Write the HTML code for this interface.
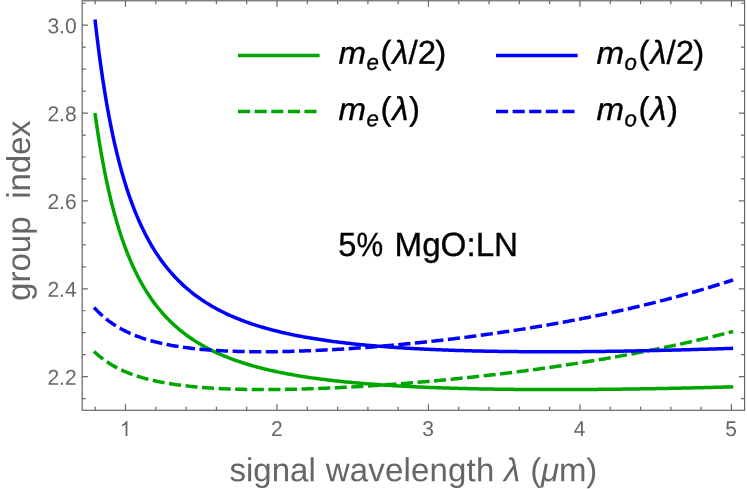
<!DOCTYPE html>
<html><head><meta charset="utf-8"><title>group index</title>
<style>html,body{margin:0;padding:0;background:#fff}body{width:747px;height:489px;overflow:hidden;font-family:"Liberation Sans",sans-serif}svg text{text-rendering:geometricPrecision}</style></head>
<body>
<svg width="747" height="489" viewBox="0 0 747 489" style="display:block;will-change:transform">
<rect width="747" height="489" fill="#fff"/>
<g fill="none" stroke-width="3.50" stroke-linecap="square" stroke-linejoin="round">
<path d="M95.20 114.64 L96.80 125.76 L98.39 136.21 L99.99 146.04 L101.58 155.29 L103.18 164.02 L104.77 172.26 L106.37 180.06 L107.96 187.45 L109.55 194.45 L111.15 201.09 L112.74 207.40 L114.34 213.41 L115.93 219.12 L117.53 224.57 L119.12 229.76 L120.72 234.72 L122.31 239.46 L123.91 243.99 L125.50 248.32 L127.09 252.47 L128.69 256.45 L130.28 260.27 L131.88 263.93 L133.47 267.44 L135.07 270.82 L136.66 274.07 L138.26 277.19 L139.85 280.20 L141.45 283.10 L143.04 285.89 L144.63 288.58 L146.23 291.17 L147.82 293.68 L149.42 296.09 L151.01 298.43 L152.61 300.69 L154.20 302.87 L155.80 304.98 L157.39 307.02 L158.99 309.00 L160.58 310.91 L162.17 312.77 L163.77 314.56 L165.36 316.30 L166.96 317.99 L168.55 319.63 L170.15 321.22 L171.74 322.76 L173.34 324.26 L174.93 325.72 L176.52 327.13 L178.12 328.51 L179.71 329.84 L181.31 331.14 L182.90 332.41 L184.50 333.64 L186.09 334.83 L187.69 336.00 L189.28 337.13 L190.88 338.24 L192.47 339.31 L194.06 340.36 L195.66 341.38 L197.25 342.38 L198.85 343.35 L200.44 344.30 L202.04 345.22 L203.63 346.12 L205.23 347.00 L206.82 347.86 L208.42 348.70 L210.01 349.52 L211.60 350.32 L213.20 351.10 L214.79 351.86 L216.39 352.60 L217.98 353.33 L219.58 354.04 L221.17 354.74 L222.77 355.42 L224.36 356.08 L225.96 356.73 L227.55 357.37 L229.14 357.99 L230.74 358.60 L232.33 359.20 L233.93 359.78 L235.52 360.35 L237.12 360.91 L238.71 361.46 L240.31 361.99 L241.90 362.52 L243.49 363.03 L245.09 363.54 L246.68 364.03 L248.28 364.51 L249.87 364.99 L251.47 365.45 L253.06 365.91 L254.66 366.35 L256.25 366.79 L257.85 367.22 L259.44 367.64 L261.03 368.05 L262.63 368.45 L264.22 368.85 L265.82 369.24 L267.41 369.62 L269.01 369.99 L270.60 370.36 L272.20 370.72 L273.79 371.08 L275.39 371.42 L276.98 371.76 L278.57 372.10 L280.17 372.43 L281.76 372.75 L283.36 373.06 L284.95 373.37 L286.55 373.68 L288.14 373.98 L289.74 374.27 L291.33 374.56 L292.93 374.84 L294.52 375.12 L296.11 375.40 L297.71 375.67 L299.30 375.93 L300.90 376.19 L302.49 376.44 L304.09 376.69 L305.68 376.94 L307.28 377.18 L308.87 377.42 L310.47 377.65 L312.06 377.88 L313.65 378.11 L315.25 378.33 L316.84 378.55 L318.44 378.76 L320.03 378.97 L321.63 379.18 L323.22 379.38 L324.82 379.58 L326.41 379.78 L328.00 379.97 L329.60 380.16 L331.19 380.35 L332.79 380.53 L334.38 380.71 L335.98 380.89 L337.57 381.06 L339.17 381.24 L340.76 381.40 L342.36 381.57 L343.95 381.73 L345.54 381.89 L347.14 382.05 L348.73 382.21 L350.33 382.36 L351.92 382.51 L353.52 382.66 L355.11 382.80 L356.71 382.94 L358.30 383.08 L359.90 383.22 L361.49 383.36 L363.08 383.49 L364.68 383.62 L366.27 383.75 L367.87 383.88 L369.46 384.00 L371.06 384.12 L372.65 384.24 L374.25 384.36 L375.84 384.48 L377.44 384.59 L379.03 384.71 L380.62 384.82 L382.22 384.93 L383.81 385.03 L385.41 385.14 L387.00 385.24 L388.60 385.34 L390.19 385.44 L391.79 385.54 L393.38 385.64 L394.97 385.73 L396.57 385.82 L398.16 385.92 L399.76 386.01 L401.35 386.09 L402.95 386.18 L404.54 386.27 L406.14 386.35 L407.73 386.43 L409.33 386.51 L410.92 386.59 L412.51 386.67 L414.11 386.75 L415.70 386.82 L417.30 386.90 L418.89 386.97 L420.49 387.04 L422.08 387.11 L423.68 387.18 L425.27 387.25 L426.87 387.31 L428.46 387.38 L430.05 387.44 L431.65 387.50 L433.24 387.56 L434.84 387.62 L436.43 387.68 L438.03 387.74 L439.62 387.80 L441.22 387.85 L442.81 387.91 L444.41 387.96 L446.00 388.01 L447.59 388.06 L449.19 388.11 L450.78 388.16 L452.38 388.21 L453.97 388.26 L455.57 388.30 L457.16 388.35 L458.76 388.39 L460.35 388.44 L461.95 388.48 L463.54 388.52 L465.13 388.56 L466.73 388.60 L468.32 388.64 L469.92 388.67 L471.51 388.71 L473.11 388.75 L474.70 388.78 L476.30 388.81 L477.89 388.85 L479.48 388.88 L481.08 388.91 L482.67 388.94 L484.27 388.97 L485.86 389.00 L487.46 389.03 L489.05 389.06 L490.65 389.08 L492.24 389.11 L493.84 389.13 L495.43 389.16 L497.02 389.18 L498.62 389.20 L500.21 389.22 L501.81 389.25 L503.40 389.27 L505.00 389.29 L506.59 389.30 L508.19 389.32 L509.78 389.34 L511.38 389.36 L512.97 389.37 L514.56 389.39 L516.16 389.40 L517.75 389.42 L519.35 389.43 L520.94 389.44 L522.54 389.46 L524.13 389.47 L525.73 389.48 L527.32 389.49 L528.92 389.50 L530.51 389.51 L532.10 389.52 L533.70 389.52 L535.29 389.53 L536.89 389.54 L538.48 389.54 L540.08 389.55 L541.67 389.55 L543.27 389.56 L544.86 389.56 L546.45 389.56 L548.05 389.57 L549.64 389.57 L551.24 389.57 L552.83 389.57 L554.43 389.57 L556.02 389.57 L557.62 389.57 L559.21 389.57 L560.81 389.57 L562.40 389.56 L563.99 389.56 L565.59 389.56 L567.18 389.55 L568.78 389.55 L570.37 389.54 L571.97 389.54 L573.56 389.53 L575.16 389.53 L576.75 389.52 L578.35 389.51 L579.94 389.50 L581.53 389.50 L583.13 389.49 L584.72 389.48 L586.32 389.47 L587.91 389.46 L589.51 389.45 L591.10 389.43 L592.70 389.42 L594.29 389.41 L595.89 389.40 L597.48 389.38 L599.07 389.37 L600.67 389.36 L602.26 389.34 L603.86 389.33 L605.45 389.31 L607.05 389.30 L608.64 389.28 L610.24 389.26 L611.83 389.25 L613.43 389.23 L615.02 389.21 L616.61 389.19 L618.21 389.17 L619.80 389.15 L621.40 389.14 L622.99 389.12 L624.59 389.09 L626.18 389.07 L627.78 389.05 L629.37 389.03 L630.96 389.01 L632.56 388.99 L634.15 388.96 L635.75 388.94 L637.34 388.92 L638.94 388.89 L640.53 388.87 L642.13 388.84 L643.72 388.82 L645.32 388.79 L646.91 388.77 L648.50 388.74 L650.10 388.71 L651.69 388.69 L653.29 388.66 L654.88 388.63 L656.48 388.60 L658.07 388.58 L659.67 388.55 L661.26 388.52 L662.86 388.49 L664.45 388.46 L666.04 388.43 L667.64 388.40 L669.23 388.37 L670.83 388.33 L672.42 388.30 L674.02 388.27 L675.61 388.24 L677.21 388.20 L678.80 388.17 L680.40 388.14 L681.99 388.10 L683.58 388.07 L685.18 388.04 L686.77 388.00 L688.37 387.97 L689.96 387.93 L691.56 387.89 L693.15 387.86 L694.75 387.82 L696.34 387.78 L697.93 387.75 L699.53 387.71 L701.12 387.67 L702.72 387.63 L704.31 387.60 L705.91 387.56 L707.50 387.52 L709.10 387.48 L710.69 387.44 L712.29 387.40 L713.88 387.36 L715.47 387.32 L717.07 387.28 L718.66 387.23 L720.26 387.19 L721.85 387.15 L723.45 387.11 L725.04 387.07 L726.64 387.02 L728.23 386.98 L729.83 386.94 L731.42 386.89" stroke="#00a600"/>
<path d="M95.20 352.60 L96.80 354.04 L98.39 355.42 L99.99 356.73 L101.58 357.99 L103.18 359.20 L104.77 360.35 L106.37 361.46 L107.96 362.52 L109.55 363.54 L111.15 364.51 L112.74 365.45 L114.34 366.35 L115.93 367.22 L117.53 368.05 L119.12 368.85 L120.72 369.62 L122.31 370.36 L123.91 371.08 L125.50 371.76 L127.09 372.43 L128.69 373.06 L130.28 373.68 L131.88 374.27 L133.47 374.84 L135.07 375.40 L136.66 375.93 L138.26 376.44 L139.85 376.94 L141.45 377.42 L143.04 377.88 L144.63 378.33 L146.23 378.76 L147.82 379.18 L149.42 379.58 L151.01 379.97 L152.61 380.35 L154.20 380.71 L155.80 381.06 L157.39 381.40 L158.99 381.73 L160.58 382.05 L162.17 382.36 L163.77 382.66 L165.36 382.94 L166.96 383.22 L168.55 383.49 L170.15 383.75 L171.74 384.00 L173.34 384.24 L174.93 384.48 L176.52 384.71 L178.12 384.93 L179.71 385.14 L181.31 385.34 L182.90 385.54 L184.50 385.73 L186.09 385.92 L187.69 386.09 L189.28 386.27 L190.88 386.43 L192.47 386.59 L194.06 386.75 L195.66 386.90 L197.25 387.04 L198.85 387.18 L200.44 387.31 L202.04 387.44 L203.63 387.56 L205.23 387.68 L206.82 387.80 L208.42 387.91 L210.01 388.01 L211.60 388.11 L213.20 388.21 L214.79 388.30 L216.39 388.39 L217.98 388.48 L219.58 388.56 L221.17 388.64 L222.77 388.71 L224.36 388.78 L225.96 388.85 L227.55 388.91 L229.14 388.97 L230.74 389.03 L232.33 389.08 L233.93 389.13 L235.52 389.18 L237.12 389.22 L238.71 389.27 L240.31 389.30 L241.90 389.34 L243.49 389.37 L245.09 389.40 L246.68 389.43 L248.28 389.46 L249.87 389.48 L251.47 389.50 L253.06 389.52 L254.66 389.53 L256.25 389.54 L257.85 389.55 L259.44 389.56 L261.03 389.57 L262.63 389.57 L264.22 389.57 L265.82 389.57 L267.41 389.57 L269.01 389.56 L270.60 389.55 L272.20 389.54 L273.79 389.53 L275.39 389.52 L276.98 389.50 L278.57 389.49 L280.17 389.47 L281.76 389.45 L283.36 389.42 L284.95 389.40 L286.55 389.37 L288.14 389.34 L289.74 389.31 L291.33 389.28 L292.93 389.25 L294.52 389.21 L296.11 389.17 L297.71 389.14 L299.30 389.09 L300.90 389.05 L302.49 389.01 L304.09 388.96 L305.68 388.92 L307.28 388.87 L308.87 388.82 L310.47 388.77 L312.06 388.71 L313.65 388.66 L315.25 388.60 L316.84 388.55 L318.44 388.49 L320.03 388.43 L321.63 388.37 L323.22 388.30 L324.82 388.24 L326.41 388.17 L328.00 388.10 L329.60 388.04 L331.19 387.97 L332.79 387.89 L334.38 387.82 L335.98 387.75 L337.57 387.67 L339.17 387.60 L340.76 387.52 L342.36 387.44 L343.95 387.36 L345.54 387.28 L347.14 387.19 L348.73 387.11 L350.33 387.02 L351.92 386.94 L353.52 386.85 L355.11 386.76 L356.71 386.67 L358.30 386.58 L359.90 386.48 L361.49 386.39 L363.08 386.29 L364.68 386.20 L366.27 386.10 L367.87 386.00 L369.46 385.90 L371.06 385.80 L372.65 385.70 L374.25 385.59 L375.84 385.49 L377.44 385.38 L379.03 385.27 L380.62 385.17 L382.22 385.06 L383.81 384.95 L385.41 384.83 L387.00 384.72 L388.60 384.61 L390.19 384.49 L391.79 384.38 L393.38 384.26 L394.97 384.14 L396.57 384.02 L398.16 383.90 L399.76 383.78 L401.35 383.65 L402.95 383.53 L404.54 383.41 L406.14 383.28 L407.73 383.15 L409.33 383.02 L410.92 382.89 L412.51 382.76 L414.11 382.63 L415.70 382.50 L417.30 382.37 L418.89 382.23 L420.49 382.09 L422.08 381.96 L423.68 381.82 L425.27 381.68 L426.87 381.54 L428.46 381.40 L430.05 381.26 L431.65 381.11 L433.24 380.97 L434.84 380.82 L436.43 380.67 L438.03 380.53 L439.62 380.38 L441.22 380.23 L442.81 380.08 L444.41 379.92 L446.00 379.77 L447.59 379.62 L449.19 379.46 L450.78 379.30 L452.38 379.15 L453.97 378.99 L455.57 378.83 L457.16 378.67 L458.76 378.50 L460.35 378.34 L461.95 378.18 L463.54 378.01 L465.13 377.85 L466.73 377.68 L468.32 377.51 L469.92 377.34 L471.51 377.17 L473.11 377.00 L474.70 376.82 L476.30 376.65 L477.89 376.48 L479.48 376.30 L481.08 376.12 L482.67 375.94 L484.27 375.76 L485.86 375.58 L487.46 375.40 L489.05 375.22 L490.65 375.03 L492.24 374.85 L493.84 374.66 L495.43 374.48 L497.02 374.29 L498.62 374.10 L500.21 373.91 L501.81 373.72 L503.40 373.52 L505.00 373.33 L506.59 373.13 L508.19 372.94 L509.78 372.74 L511.38 372.54 L512.97 372.34 L514.56 372.14 L516.16 371.94 L517.75 371.73 L519.35 371.53 L520.94 371.32 L522.54 371.12 L524.13 370.91 L525.73 370.70 L527.32 370.49 L528.92 370.28 L530.51 370.06 L532.10 369.85 L533.70 369.63 L535.29 369.42 L536.89 369.20 L538.48 368.98 L540.08 368.76 L541.67 368.54 L543.27 368.32 L544.86 368.09 L546.45 367.87 L548.05 367.64 L549.64 367.42 L551.24 367.19 L552.83 366.96 L554.43 366.73 L556.02 366.49 L557.62 366.26 L559.21 366.03 L560.81 365.79 L562.40 365.55 L563.99 365.31 L565.59 365.07 L567.18 364.83 L568.78 364.59 L570.37 364.35 L571.97 364.10 L573.56 363.86 L575.16 363.61 L576.75 363.36 L578.35 363.11 L579.94 362.86 L581.53 362.60 L583.13 362.35 L584.72 362.09 L586.32 361.84 L587.91 361.58 L589.51 361.32 L591.10 361.06 L592.70 360.79 L594.29 360.53 L595.89 360.27 L597.48 360.00 L599.07 359.73 L600.67 359.46 L602.26 359.19 L603.86 358.92 L605.45 358.65 L607.05 358.37 L608.64 358.09 L610.24 357.82 L611.83 357.54 L613.43 357.26 L615.02 356.97 L616.61 356.69 L618.21 356.40 L619.80 356.12 L621.40 355.83 L622.99 355.54 L624.59 355.25 L626.18 354.96 L627.78 354.66 L629.37 354.37 L630.96 354.07 L632.56 353.77 L634.15 353.47 L635.75 353.17 L637.34 352.87 L638.94 352.56 L640.53 352.25 L642.13 351.95 L643.72 351.64 L645.32 351.33 L646.91 351.01 L648.50 350.70 L650.10 350.38 L651.69 350.06 L653.29 349.74 L654.88 349.42 L656.48 349.10 L658.07 348.78 L659.67 348.45 L661.26 348.12 L662.86 347.79 L664.45 347.46 L666.04 347.13 L667.64 346.80 L669.23 346.46 L670.83 346.12 L672.42 345.78 L674.02 345.44 L675.61 345.10 L677.21 344.75 L678.80 344.41 L680.40 344.06 L681.99 343.71 L683.58 343.36 L685.18 343.00 L686.77 342.65 L688.37 342.29 L689.96 341.93 L691.56 341.57 L693.15 341.21 L694.75 340.84 L696.34 340.48 L697.93 340.11 L699.53 339.74 L701.12 339.36 L702.72 338.99 L704.31 338.61 L705.91 338.24 L707.50 337.86 L709.10 337.47 L710.69 337.09 L712.29 336.70 L713.88 336.32 L715.47 335.93 L717.07 335.53 L718.66 335.14 L720.26 334.74 L721.85 334.35 L723.45 333.94 L725.04 333.54 L726.64 333.14 L728.23 332.73 L729.83 332.32 L731.42 331.91" stroke="#00a600" stroke-dasharray="8.62 7.98"/>
<path d="M95.20 21.20 L96.80 34.96 L98.39 47.85 L99.99 59.95 L101.58 71.32 L103.18 82.03 L104.77 92.13 L106.37 101.67 L107.96 110.69 L109.55 119.22 L111.15 127.31 L112.74 134.99 L114.34 142.28 L115.93 149.21 L117.53 155.81 L119.12 162.09 L120.72 168.09 L122.31 173.81 L123.91 179.28 L125.50 184.50 L127.09 189.50 L128.69 194.29 L130.28 198.87 L131.88 203.27 L133.47 207.49 L135.07 211.54 L136.66 215.43 L138.26 219.18 L139.85 222.78 L141.45 226.24 L143.04 229.58 L144.63 232.79 L146.23 235.89 L147.82 238.88 L149.42 241.76 L151.01 244.55 L152.61 247.23 L154.20 249.83 L155.80 252.34 L157.39 254.77 L158.99 257.12 L160.58 259.40 L162.17 261.60 L163.77 263.74 L165.36 265.80 L166.96 267.81 L168.55 269.75 L170.15 271.64 L171.74 273.47 L173.34 275.24 L174.93 276.96 L176.52 278.64 L178.12 280.27 L179.71 281.85 L181.31 283.38 L182.90 284.88 L184.50 286.33 L186.09 287.75 L187.69 289.12 L189.28 290.46 L190.88 291.77 L192.47 293.04 L194.06 294.28 L195.66 295.48 L197.25 296.66 L198.85 297.80 L200.44 298.92 L202.04 300.01 L203.63 301.07 L205.23 302.11 L206.82 303.12 L208.42 304.10 L210.01 305.07 L211.60 306.01 L213.20 306.93 L214.79 307.82 L216.39 308.70 L217.98 309.56 L219.58 310.39 L221.17 311.21 L222.77 312.01 L224.36 312.79 L225.96 313.56 L227.55 314.30 L229.14 315.04 L230.74 315.75 L232.33 316.45 L233.93 317.14 L235.52 317.81 L237.12 318.46 L238.71 319.10 L240.31 319.73 L241.90 320.35 L243.49 320.95 L245.09 321.54 L246.68 322.12 L248.28 322.69 L249.87 323.24 L251.47 323.79 L253.06 324.32 L254.66 324.84 L256.25 325.35 L257.85 325.85 L259.44 326.35 L261.03 326.83 L262.63 327.30 L264.22 327.77 L265.82 328.22 L267.41 328.67 L269.01 329.11 L270.60 329.54 L272.20 329.96 L273.79 330.37 L275.39 330.78 L276.98 331.17 L278.57 331.57 L280.17 331.95 L281.76 332.33 L283.36 332.69 L284.95 333.06 L286.55 333.41 L288.14 333.76 L289.74 334.11 L291.33 334.44 L292.93 334.78 L294.52 335.10 L296.11 335.42 L297.71 335.73 L299.30 336.04 L300.90 336.34 L302.49 336.64 L304.09 336.93 L305.68 337.22 L307.28 337.50 L308.87 337.78 L310.47 338.05 L312.06 338.32 L313.65 338.58 L315.25 338.84 L316.84 339.09 L318.44 339.34 L320.03 339.59 L321.63 339.83 L323.22 340.07 L324.82 340.30 L326.41 340.53 L328.00 340.75 L329.60 340.97 L331.19 341.19 L332.79 341.40 L334.38 341.61 L335.98 341.82 L337.57 342.02 L339.17 342.22 L340.76 342.42 L342.36 342.61 L343.95 342.80 L345.54 342.99 L347.14 343.17 L348.73 343.35 L350.33 343.53 L351.92 343.70 L353.52 343.87 L355.11 344.04 L356.71 344.21 L358.30 344.37 L359.90 344.53 L361.49 344.68 L363.08 344.84 L364.68 344.99 L366.27 345.14 L367.87 345.29 L369.46 345.43 L371.06 345.57 L372.65 345.71 L374.25 345.85 L375.84 345.98 L377.44 346.12 L379.03 346.25 L380.62 346.37 L382.22 346.50 L383.81 346.62 L385.41 346.75 L387.00 346.87 L388.60 346.98 L390.19 347.10 L391.79 347.21 L393.38 347.32 L394.97 347.43 L396.57 347.54 L398.16 347.64 L399.76 347.75 L401.35 347.85 L402.95 347.95 L404.54 348.05 L406.14 348.14 L407.73 348.24 L409.33 348.33 L410.92 348.42 L412.51 348.51 L414.11 348.60 L415.70 348.69 L417.30 348.77 L418.89 348.86 L420.49 348.94 L422.08 349.02 L423.68 349.10 L425.27 349.17 L426.87 349.25 L428.46 349.32 L430.05 349.40 L431.65 349.47 L433.24 349.54 L434.84 349.61 L436.43 349.67 L438.03 349.74 L439.62 349.80 L441.22 349.87 L442.81 349.93 L444.41 349.99 L446.00 350.05 L447.59 350.11 L449.19 350.16 L450.78 350.22 L452.38 350.27 L453.97 350.33 L455.57 350.38 L457.16 350.43 L458.76 350.48 L460.35 350.53 L461.95 350.58 L463.54 350.62 L465.13 350.67 L466.73 350.71 L468.32 350.75 L469.92 350.80 L471.51 350.84 L473.11 350.88 L474.70 350.92 L476.30 350.95 L477.89 350.99 L479.48 351.03 L481.08 351.06 L482.67 351.09 L484.27 351.13 L485.86 351.16 L487.46 351.19 L489.05 351.22 L490.65 351.25 L492.24 351.28 L493.84 351.31 L495.43 351.33 L497.02 351.36 L498.62 351.38 L500.21 351.41 L501.81 351.43 L503.40 351.45 L505.00 351.47 L506.59 351.49 L508.19 351.51 L509.78 351.53 L511.38 351.55 L512.97 351.57 L514.56 351.58 L516.16 351.60 L517.75 351.61 L519.35 351.63 L520.94 351.64 L522.54 351.65 L524.13 351.66 L525.73 351.67 L527.32 351.68 L528.92 351.69 L530.51 351.70 L532.10 351.71 L533.70 351.72 L535.29 351.72 L536.89 351.73 L538.48 351.73 L540.08 351.74 L541.67 351.74 L543.27 351.75 L544.86 351.75 L546.45 351.75 L548.05 351.75 L549.64 351.75 L551.24 351.75 L552.83 351.75 L554.43 351.75 L556.02 351.75 L557.62 351.74 L559.21 351.74 L560.81 351.73 L562.40 351.73 L563.99 351.72 L565.59 351.72 L567.18 351.71 L568.78 351.70 L570.37 351.70 L571.97 351.69 L573.56 351.68 L575.16 351.67 L576.75 351.66 L578.35 351.65 L579.94 351.64 L581.53 351.63 L583.13 351.61 L584.72 351.60 L586.32 351.59 L587.91 351.57 L589.51 351.56 L591.10 351.54 L592.70 351.53 L594.29 351.51 L595.89 351.49 L597.48 351.48 L599.07 351.46 L600.67 351.44 L602.26 351.42 L603.86 351.40 L605.45 351.38 L607.05 351.36 L608.64 351.34 L610.24 351.32 L611.83 351.29 L613.43 351.27 L615.02 351.25 L616.61 351.23 L618.21 351.20 L619.80 351.18 L621.40 351.15 L622.99 351.13 L624.59 351.10 L626.18 351.07 L627.78 351.05 L629.37 351.02 L630.96 350.99 L632.56 350.96 L634.15 350.93 L635.75 350.90 L637.34 350.87 L638.94 350.84 L640.53 350.81 L642.13 350.78 L643.72 350.75 L645.32 350.72 L646.91 350.69 L648.50 350.65 L650.10 350.62 L651.69 350.59 L653.29 350.55 L654.88 350.52 L656.48 350.48 L658.07 350.45 L659.67 350.41 L661.26 350.37 L662.86 350.34 L664.45 350.30 L666.04 350.26 L667.64 350.22 L669.23 350.18 L670.83 350.15 L672.42 350.11 L674.02 350.07 L675.61 350.03 L677.21 349.98 L678.80 349.94 L680.40 349.90 L681.99 349.86 L683.58 349.82 L685.18 349.78 L686.77 349.73 L688.37 349.69 L689.96 349.64 L691.56 349.60 L693.15 349.56 L694.75 349.51 L696.34 349.46 L697.93 349.42 L699.53 349.37 L701.12 349.33 L702.72 349.28 L704.31 349.23 L705.91 349.18 L707.50 349.13 L709.10 349.09 L710.69 349.04 L712.29 348.99 L713.88 348.94 L715.47 348.89 L717.07 348.84 L718.66 348.79 L720.26 348.73 L721.85 348.68 L723.45 348.63 L725.04 348.58 L726.64 348.53 L728.23 348.47 L729.83 348.42 L731.42 348.36" stroke="#0000ff"/>
<path d="M95.20 308.70 L96.80 310.39 L98.39 312.01 L99.99 313.56 L101.58 315.04 L103.18 316.45 L104.77 317.81 L106.37 319.10 L107.96 320.35 L109.55 321.54 L111.15 322.69 L112.74 323.79 L114.34 324.84 L115.93 325.85 L117.53 326.83 L119.12 327.77 L120.72 328.67 L122.31 329.54 L123.91 330.37 L125.50 331.17 L127.09 331.95 L128.69 332.69 L130.28 333.41 L131.88 334.11 L133.47 334.78 L135.07 335.42 L136.66 336.04 L138.26 336.64 L139.85 337.22 L141.45 337.78 L143.04 338.32 L144.63 338.84 L146.23 339.34 L147.82 339.83 L149.42 340.30 L151.01 340.75 L152.61 341.19 L154.20 341.61 L155.80 342.02 L157.39 342.42 L158.99 342.80 L160.58 343.17 L162.17 343.53 L163.77 343.87 L165.36 344.21 L166.96 344.53 L168.55 344.84 L170.15 345.14 L171.74 345.43 L173.34 345.71 L174.93 345.98 L176.52 346.25 L178.12 346.50 L179.71 346.75 L181.31 346.98 L182.90 347.21 L184.50 347.43 L186.09 347.64 L187.69 347.85 L189.28 348.05 L190.88 348.24 L192.47 348.42 L194.06 348.60 L195.66 348.77 L197.25 348.94 L198.85 349.10 L200.44 349.25 L202.04 349.40 L203.63 349.54 L205.23 349.67 L206.82 349.80 L208.42 349.93 L210.01 350.05 L211.60 350.16 L213.20 350.27 L214.79 350.38 L216.39 350.48 L217.98 350.58 L219.58 350.67 L221.17 350.75 L222.77 350.84 L224.36 350.92 L225.96 350.99 L227.55 351.06 L229.14 351.13 L230.74 351.19 L232.33 351.25 L233.93 351.31 L235.52 351.36 L237.12 351.41 L238.71 351.45 L240.31 351.49 L241.90 351.53 L243.49 351.57 L245.09 351.60 L246.68 351.63 L248.28 351.65 L249.87 351.67 L251.47 351.69 L253.06 351.71 L254.66 351.72 L256.25 351.73 L257.85 351.74 L259.44 351.75 L261.03 351.75 L262.63 351.75 L264.22 351.75 L265.82 351.74 L267.41 351.73 L269.01 351.72 L270.60 351.71 L272.20 351.70 L273.79 351.68 L275.39 351.66 L276.98 351.64 L278.57 351.61 L280.17 351.59 L281.76 351.56 L283.36 351.53 L284.95 351.49 L286.55 351.46 L288.14 351.42 L289.74 351.38 L291.33 351.34 L292.93 351.29 L294.52 351.25 L296.11 351.20 L297.71 351.15 L299.30 351.10 L300.90 351.05 L302.49 350.99 L304.09 350.93 L305.68 350.87 L307.28 350.81 L308.87 350.75 L310.47 350.69 L312.06 350.62 L313.65 350.55 L315.25 350.48 L316.84 350.41 L318.44 350.34 L320.03 350.26 L321.63 350.18 L323.22 350.11 L324.82 350.03 L326.41 349.94 L328.00 349.86 L329.60 349.78 L331.19 349.69 L332.79 349.60 L334.38 349.51 L335.98 349.42 L337.57 349.33 L339.17 349.23 L340.76 349.13 L342.36 349.04 L343.95 348.94 L345.54 348.84 L347.14 348.73 L348.73 348.63 L350.33 348.53 L351.92 348.42 L353.52 348.31 L355.11 348.20 L356.71 348.09 L358.30 347.98 L359.90 347.86 L361.49 347.75 L363.08 347.63 L364.68 347.51 L366.27 347.39 L367.87 347.27 L369.46 347.15 L371.06 347.02 L372.65 346.90 L374.25 346.77 L375.84 346.64 L377.44 346.51 L379.03 346.38 L380.62 346.25 L382.22 346.12 L383.81 345.98 L385.41 345.85 L387.00 345.71 L388.60 345.57 L390.19 345.43 L391.79 345.29 L393.38 345.14 L394.97 345.00 L396.57 344.85 L398.16 344.71 L399.76 344.56 L401.35 344.41 L402.95 344.26 L404.54 344.10 L406.14 343.95 L407.73 343.79 L409.33 343.64 L410.92 343.48 L412.51 343.32 L414.11 343.16 L415.70 343.00 L417.30 342.84 L418.89 342.67 L420.49 342.51 L422.08 342.34 L423.68 342.17 L425.27 342.00 L426.87 341.83 L428.46 341.66 L430.05 341.48 L431.65 341.31 L433.24 341.13 L434.84 340.95 L436.43 340.78 L438.03 340.60 L439.62 340.41 L441.22 340.23 L442.81 340.05 L444.41 339.86 L446.00 339.68 L447.59 339.49 L449.19 339.30 L450.78 339.11 L452.38 338.92 L453.97 338.72 L455.57 338.53 L457.16 338.33 L458.76 338.13 L460.35 337.94 L461.95 337.74 L463.54 337.53 L465.13 337.33 L466.73 337.13 L468.32 336.92 L469.92 336.72 L471.51 336.51 L473.11 336.30 L474.70 336.09 L476.30 335.88 L477.89 335.66 L479.48 335.45 L481.08 335.23 L482.67 335.01 L484.27 334.80 L485.86 334.58 L487.46 334.35 L489.05 334.13 L490.65 333.91 L492.24 333.68 L493.84 333.45 L495.43 333.23 L497.02 333.00 L498.62 332.76 L500.21 332.53 L501.81 332.30 L503.40 332.06 L505.00 331.83 L506.59 331.59 L508.19 331.35 L509.78 331.11 L511.38 330.86 L512.97 330.62 L514.56 330.37 L516.16 330.13 L517.75 329.88 L519.35 329.63 L520.94 329.38 L522.54 329.13 L524.13 328.87 L525.73 328.62 L527.32 328.36 L528.92 328.10 L530.51 327.84 L532.10 327.58 L533.70 327.32 L535.29 327.05 L536.89 326.79 L538.48 326.52 L540.08 326.25 L541.67 325.98 L543.27 325.71 L544.86 325.43 L546.45 325.16 L548.05 324.88 L549.64 324.60 L551.24 324.32 L552.83 324.04 L554.43 323.76 L556.02 323.48 L557.62 323.19 L559.21 322.90 L560.81 322.61 L562.40 322.32 L563.99 322.03 L565.59 321.74 L567.18 321.44 L568.78 321.14 L570.37 320.84 L571.97 320.54 L573.56 320.24 L575.16 319.94 L576.75 319.63 L578.35 319.32 L579.94 319.02 L581.53 318.71 L583.13 318.39 L584.72 318.08 L586.32 317.76 L587.91 317.45 L589.51 317.13 L591.10 316.81 L592.70 316.48 L594.29 316.16 L595.89 315.83 L597.48 315.50 L599.07 315.17 L600.67 314.84 L602.26 314.51 L603.86 314.17 L605.45 313.84 L607.05 313.50 L608.64 313.16 L610.24 312.82 L611.83 312.47 L613.43 312.12 L615.02 311.78 L616.61 311.43 L618.21 311.07 L619.80 310.72 L621.40 310.36 L622.99 310.01 L624.59 309.65 L626.18 309.29 L627.78 308.92 L629.37 308.56 L630.96 308.19 L632.56 307.82 L634.15 307.45 L635.75 307.07 L637.34 306.70 L638.94 306.32 L640.53 305.94 L642.13 305.56 L643.72 305.18 L645.32 304.79 L646.91 304.40 L648.50 304.01 L650.10 303.62 L651.69 303.23 L653.29 302.83 L654.88 302.43 L656.48 302.03 L658.07 301.63 L659.67 301.22 L661.26 300.81 L662.86 300.40 L664.45 299.99 L666.04 299.58 L667.64 299.16 L669.23 298.74 L670.83 298.32 L672.42 297.90 L674.02 297.47 L675.61 297.04 L677.21 296.61 L678.80 296.18 L680.40 295.75 L681.99 295.31 L683.58 294.87 L685.18 294.43 L686.77 293.98 L688.37 293.53 L689.96 293.08 L691.56 292.63 L693.15 292.18 L694.75 291.72 L696.34 291.26 L697.93 290.80 L699.53 290.33 L701.12 289.86 L702.72 289.39 L704.31 288.92 L705.91 288.45 L707.50 287.97 L709.10 287.49 L710.69 287.00 L712.29 286.52 L713.88 286.03 L715.47 285.54 L717.07 285.04 L718.66 284.54 L720.26 284.04 L721.85 283.54 L723.45 283.03 L725.04 282.53 L726.64 282.01 L728.23 281.50 L729.83 280.98 L731.42 280.46" stroke="#0000ff" stroke-dasharray="8.62 7.98"/>
</g>
<g stroke="#666666" stroke-width="1.2" fill="none">
<rect x="82.15" y="0.77" width="662.45" height="409.53"/>
<path d="M95.20 410.30v-3.60M95.20 0.77v3.60M125.50 410.30v-6.10M125.50 0.77v6.10M155.80 410.30v-3.60M155.80 0.77v3.60M186.09 410.30v-3.60M186.09 0.77v3.60M216.39 410.30v-3.60M216.39 0.77v3.60M246.68 410.30v-3.60M246.68 0.77v3.60M276.98 410.30v-6.10M276.98 0.77v6.10M307.28 410.30v-3.60M307.28 0.77v3.60M337.57 410.30v-3.60M337.57 0.77v3.60M367.87 410.30v-3.60M367.87 0.77v3.60M398.16 410.30v-3.60M398.16 0.77v3.60M428.46 410.30v-6.10M428.46 0.77v6.10M458.76 410.30v-3.60M458.76 0.77v3.60M489.05 410.30v-3.60M489.05 0.77v3.60M519.35 410.30v-3.60M519.35 0.77v3.60M549.64 410.30v-3.60M549.64 0.77v3.60M579.94 410.30v-6.10M579.94 0.77v6.10M610.24 410.30v-3.60M610.24 0.77v3.60M640.53 410.30v-3.60M640.53 0.77v3.60M670.83 410.30v-3.60M670.83 0.77v3.60M701.12 410.30v-3.60M701.12 0.77v3.60M731.42 410.30v-6.10M731.42 0.77v6.10M82.15 398.61h3.60M744.60 398.61h-3.60M82.15 376.64h5.70M744.60 376.64h-5.70M82.15 354.68h3.60M744.60 354.68h-3.60M82.15 332.71h3.60M744.60 332.71h-3.60M82.15 310.74h3.60M744.60 310.74h-3.60M82.15 288.78h5.70M744.60 288.78h-5.70M82.15 266.81h3.60M744.60 266.81h-3.60M82.15 244.85h3.60M744.60 244.85h-3.60M82.15 222.88h3.60M744.60 222.88h-3.60M82.15 200.92h5.70M744.60 200.92h-5.70M82.15 178.95h3.60M744.60 178.95h-3.60M82.15 156.99h3.60M744.60 156.99h-3.60M82.15 135.03h3.60M744.60 135.03h-3.60M82.15 113.06h5.70M744.60 113.06h-5.70M82.15 91.09h3.60M744.60 91.09h-3.60M82.15 69.13h3.60M744.60 69.13h-3.60M82.15 47.16h3.60M744.60 47.16h-3.60M82.15 25.20h5.70M744.60 25.20h-5.70M82.15 3.23h3.60M744.60 3.23h-3.60"/>
</g>
<g font-family="'Liberation Sans', sans-serif" font-size="21.00" fill="#666666">
<path transform="translate(119.60 436.00) scale(0.01025 -0.01020)" d="M763 0H583V1147Q518 1085 412.5 1023T223 930V1104Q373 1175 485.5 1276T645 1472H763V0Z" stroke="none"/>
<text transform="translate(276.73 436.00) rotate(0.03) scale(1 1.020)" text-anchor="middle">2</text>
<text transform="translate(428.21 436.00) rotate(0.03) scale(1 1.020)" text-anchor="middle">3</text>
<text transform="translate(579.69 436.00) rotate(0.03) scale(1 1.020)" text-anchor="middle">4</text>
<text transform="translate(731.17 436.00) rotate(0.03) scale(1 1.020)" text-anchor="middle">5</text>
<text transform="translate(76.6 384.74) rotate(0.03) scale(1 1.020)" text-anchor="end">2.2</text>
<text transform="translate(76.6 296.88) rotate(0.03) scale(1 1.020)" text-anchor="end">2.4</text>
<text transform="translate(76.6 209.02) rotate(0.03) scale(1 1.020)" text-anchor="end">2.6</text>
<text transform="translate(76.6 121.16) rotate(0.03) scale(1 1.020)" text-anchor="end">2.8</text>
<text transform="translate(76.6 33.30) rotate(0.03) scale(1 1.020)" text-anchor="end">3.0</text>
</g>
<g font-family="'Liberation Sans', sans-serif" font-size="33" fill="#666666">
<text transform="translate(229.5 481.2) rotate(0.03)" xml:space="preserve">signal <tspan dx="0.8" letter-spacing="0.18">wavelength</tspan> <tspan font-style="italic" dx="0.5">λ</tspan> <tspan dx="0.7" letter-spacing="-0.2">(<tspan font-style="italic">μ</tspan>m)</tspan></text>
<text transform="translate(29.9 300.9) rotate(-89.97)">group</text>
<text transform="translate(29.9 198.7) rotate(-89.97)" letter-spacing="-0.15">index</text>
</g>
<g fill="none" stroke-width="3.50" stroke-linecap="square">
<path d="M239.75 55.4H317.85" stroke="#00a600"/>
<path d="M239.75 111.6H317.85" stroke="#00a600" stroke-dasharray="8.62 7.98"/>
<path d="M497.75 55.4H575.85" stroke="#0000ff"/>
<path d="M497.75 111.6H575.85" stroke="#0000ff" stroke-dasharray="8.62 7.98"/>
</g>
<g font-family="'Liberation Sans', sans-serif" font-size="33" fill="#000" stroke="#000" stroke-width="0.35">
<text transform="translate(338.50 63.70) rotate(0.03) scale(1 0.955)" font-style="italic">m</text><text transform="translate(366.49 63.70) rotate(0.03)"><tspan font-style="italic" font-size="22.2" dy="6.1">e</tspan><tspan dy="-6.1" dx="1.6">(</tspan><tspan font-style="italic" dx="0.8">λ</tspan>/2<tspan dx="-0.8">)</tspan></text>
<text transform="translate(338.50 120.10) rotate(0.03) scale(1 0.955)" font-style="italic">m</text><text transform="translate(366.49 120.10) rotate(0.03)"><tspan font-style="italic" font-size="22.2" dy="6.1">e</tspan><tspan dy="-6.1" dx="1.6">(</tspan><tspan font-style="italic" dx="0.8">λ</tspan><tspan dx="0.5">)</tspan></text>
<text transform="translate(596.50 63.70) rotate(0.03) scale(1 0.955)" font-style="italic">m</text><text transform="translate(624.49 63.70) rotate(0.03)"><tspan font-style="italic" font-size="22.2" dy="6.1">o</tspan><tspan dy="-6.1" dx="1.6">(</tspan><tspan font-style="italic" dx="0.8">λ</tspan>/2<tspan dx="-0.8">)</tspan></text>
<text transform="translate(596.50 120.10) rotate(0.03) scale(1 0.955)" font-style="italic">m</text><text transform="translate(624.49 120.10) rotate(0.03)"><tspan font-style="italic" font-size="22.2" dy="6.1">o</tspan><tspan dy="-6.1" dx="1.6">(</tspan><tspan font-style="italic" dx="0.8">λ</tspan><tspan dx="0.5">)</tspan></text>
<text transform="translate(338.3 256) rotate(0.03) scale(1 1.03)" font-size="32.6">5</text>
<text transform="translate(356.5 256) rotate(0.03) scale(0.92 1.03)" font-size="32.6">%</text>
<text transform="translate(394.5 256) rotate(0.03) scale(1 1.01)" font-size="33.2">MgO:LN</text>
</g>
</svg>
</body></html>
